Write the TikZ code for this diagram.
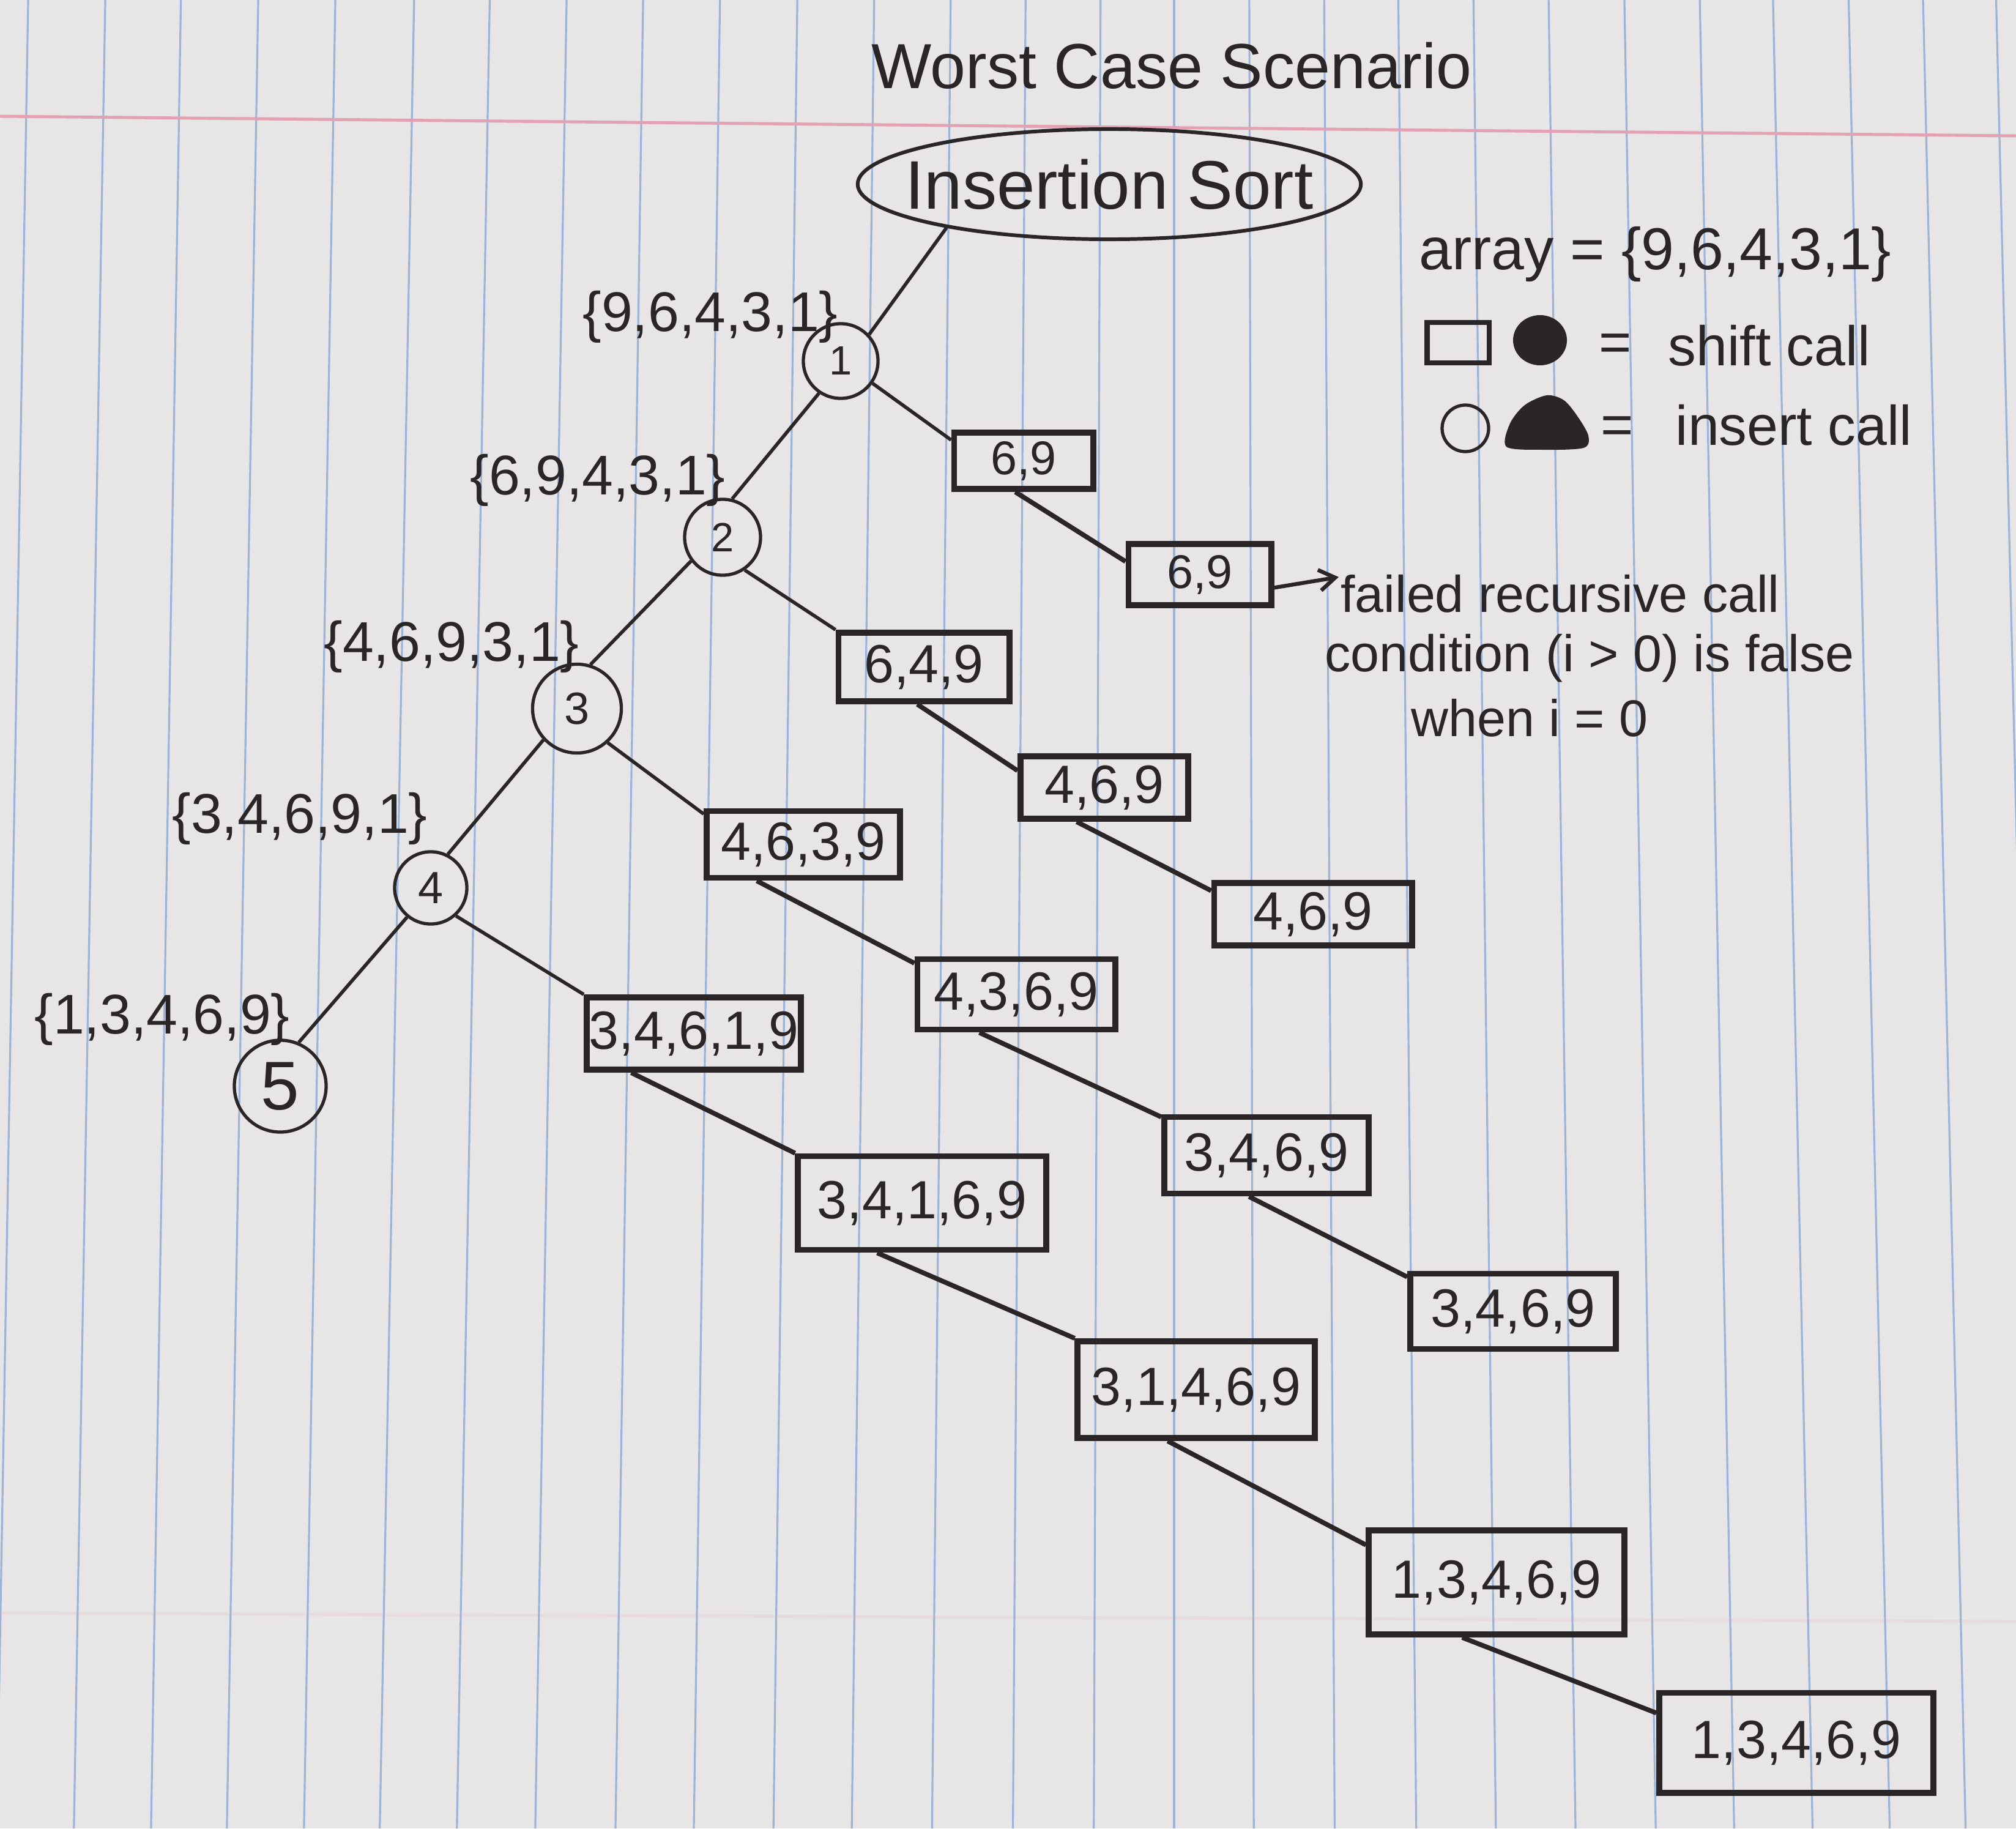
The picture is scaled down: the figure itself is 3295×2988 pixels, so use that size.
\documentclass[tikz,border=0pt]{standalone}
\usepackage{fontspec}
\setmainfont{Liberation Sans}
\usetikzlibrary{shapes.geometric,arrows.meta}
\definecolor{paper}{HTML}{E7E5E6}
\definecolor{rulecol}{HTML}{9AB4DB}
\definecolor{margincol}{HTML}{E3A2B3}
\definecolor{ink}{HTML}{2A2627}
\newcommand{\fsz}[1]{\fontsize{#1}{#1}\selectfont}

\begin{document}
\begin{tikzpicture}[x=0.01cm,y=-0.01cm,
  every node/.style={text=ink, inner sep=0pt},
  ruling/.style={draw=rulecol, line width=0.9pt},
  callnode/.style={circle, draw=ink, line width=1.5pt, font=\fsz{21pt}},
  shiftbox/.style={rectangle, draw=ink, line width=2.8pt, font=\fsz{25pt}},
  arrlabel/.style={font=\fsz{26pt}},
  branch/.style={draw=ink, line width=1.6pt},
  chain/.style={draw=ink, line width=2.2pt},
  note/.style={font=\fsz{24pt}, anchor=base},
  keytext/.style={font=\fsz{26pt}, anchor=base west},
]
% ruled notebook page
\fill[paper] (0,0) rectangle (3295,2988);
\useasboundingbox (0,0) rectangle (3295,2988);
\begin{scope}
\clip (0,0) rectangle (3295,2988);
\foreach \xt/\dx in {38/-42, 164/-42, 288/-40, 414/-42, 540/-42, 668/-46, 792/-44,
  918/-42, 1044/-37, 1170/-35, 1297/-32, 1423/-30, 1549/-25, 1673/-17, 1797/-9,
  1919/0, 2043/6, 2167/14, 2290/24, 2414/30, 2538/36, 2663/42, 2787/46, 2908/53,
  3032/55, 3154/57, 3274/60}
  \draw[ruling] ({\xt-0.192*\dx},0) -- ({\xt+1.028*\dx},2988);
\draw[margincol, line width=1.4pt] (0,190) -- (3295,222);
\draw[margincol, opacity=0.15, line width=1.4pt] (0,2636) -- (3295,2650);
\end{scope}

% title and root
\node[font=\fsz{29.6pt}, anchor=base] (title) at (1915,145) {Worst Case Scenario};
\node[ellipse, draw=ink, line width=1.7pt, minimum width=8.22cm, minimum height=1.8cm,
  label={[font=\fsz{31.9pt}]center:Insertion Sort}] (root) at (1813,301) {};

% insert calls
\node[callnode, minimum size=1.22cm, font=\fsz{19pt}] (n1) at (1374,590) {1};
\node[callnode, minimum size=1.24cm, font=\fsz{19pt}] (n2) at (1181,878) {2};
\node[callnode, minimum size=1.45cm] (n3) at (943,1158) {3};
\node[callnode, minimum size=1.18cm] (n4) at (704,1451) {4};
\node[callnode, minimum size=1.50cm, font=\fsz{32pt}] (n5) at (458,1775) {5};

% array states
\node[arrlabel] (l1) at (1161,518) {\{9,6,4,3,1\}};
\node[arrlabel] (l2) at (977,785) {\{6,9,4,3,1\}};
\node[arrlabel] (l3) at (738,1057) {\{4,6,9,3,1\}};
\node[arrlabel] (l4) at (490,1338) {\{3,4,6,9,1\}};
\node[arrlabel] (l5) at (265,1666) {\{1,3,4,6,9\}};

% shift calls
\node[shiftbox, minimum width=2.27cm, minimum height=0.92cm, font=\fsz{22pt}] (b69a) at (1673,753) {6,9};
\node[shiftbox, minimum width=2.33cm, minimum height=1.00cm, font=\fsz{22pt}] (b69b) at (1961,939) {6,9};
\node[shiftbox, minimum width=2.79cm, minimum height=1.12cm] (b649) at (1510,1090) {6,4,9};
\node[shiftbox, minimum width=2.74cm, minimum height=1.02cm] (b469a) at (1805,1287) {4,6,9};
\node[shiftbox, minimum width=3.23cm, minimum height=1.02cm] (b469b) at (2146,1494) {4,6,9};
\node[shiftbox, minimum width=3.16cm, minimum height=1.09cm] (b4639) at (1313,1380) {4,6,3,9};
\node[shiftbox, minimum width=3.23cm, minimum height=1.15cm] (b4369) at (1661,1625) {4,3,6,9};
\node[shiftbox, minimum width=3.34cm, minimum height=1.25cm] (b3469a) at (2070,1888) {3,4,6,9};
\node[shiftbox, minimum width=3.36cm, minimum height=1.23cm] (b3469b) at (2473,2143) {3,4,6,9};
\node[shiftbox, minimum width=3.50cm, minimum height=1.18cm] (b34619) at (1134,1689) {3,4,6,1,9};
\node[shiftbox, minimum width=4.05cm, minimum height=1.53cm] (b34169) at (1507,1966) {3,4,1,6,9};
\node[shiftbox, minimum width=3.87cm, minimum height=1.58cm] (b31469) at (1955,2271) {3,1,4,6,9};
\node[shiftbox, minimum width=4.17cm, minimum height=1.70cm] (b13469a) at (2446,2586) {1,3,4,6,9};
\node[shiftbox, minimum width=4.48cm, minimum height=1.63cm] (b13469b) at (2936,2848) {1,3,4,6,9};

% recursion spine
\draw[branch] (root.195) -- (n1.43);
\draw[branch] (n1.236) -- (n2.76);
\draw[branch] (n2.217) -- (n3.73);
\draw[branch] (n3.223) -- (n4.63);
\draw[branch] (n4.231) -- (n5.67);

% shift chains
\draw[branch] (n1.-35) -- (b69a.164);
\draw[chain] (b69a.255) -- (b69b.170);
\draw[branch] (n2.-56) -- (b649.north west);
\draw[chain] (b649.260) -- (b469a.169);
\draw[chain] (b469a.231) -- (b469b.167);
\draw[branch] (n3.-48) -- (b4639.163);
\draw[chain] (b4639.218) -- (b4369.163);
\draw[chain] (b4369.226) -- (b3469a.160);
\draw[chain] (b3469a.247) -- (b3469b.162);
\draw[branch] (n4.-48) -- (b34619.north west);
\draw[chain] (b34619.212) -- (b34169.north west);
\draw[chain] (b34169.228) -- (b31469.north west);
\draw[chain] (b31469.241) -- (b13469a.164);
\draw[chain] (b13469a.238) -- (b13469b.168);

% base case note
\coordinate (failtip) at (2188,943);
\draw[draw=ink, line width=1.8pt, -{Straight Barb[length=0.26cm,width=0.34cm]}] (b69b.-10) -- (failtip);
\node[note] (fail1) at (2550,1000) {failed recursive call};
\node[note] (fail2) at (2598,1097) {condition (i > 0) is false};
\node[note] (fail3) at (2500,1203) {when i = 0};

% legend
\node[font=\fsz{27.5pt}, anchor=base west] (arraydef) at (2319,440) {array = \{9,6,4,3,1\}};
\node[rectangle, draw=ink, line width=2.3pt, minimum width=1.01cm, minimum height=0.66cm] (keybox) at (2383,560) {};
\fill[ink] (2517,556) ellipse [x radius=44, y radius=41];
\node[font=\fsz{26pt}] (eqa) at (2640,568) {=};
\node[keytext] (shiftkey) at (2726,597) {shift call};
\node[circle, draw=ink, line width=1.5pt, minimum size=0.76cm] (keycirc) at (2395,700) {};
\fill[ink] plot[smooth cycle] coordinates {(2462,730) (2468,692) (2492,662) (2528,646) (2556,654) (2578,680) (2596,712) (2588,732) (2520,735)};
\node[font=\fsz{26pt}] (eqb) at (2643,703) {=};
\node[keytext] (insertkey) at (2738,727) {insert call};
\end{tikzpicture}
\end{document}
